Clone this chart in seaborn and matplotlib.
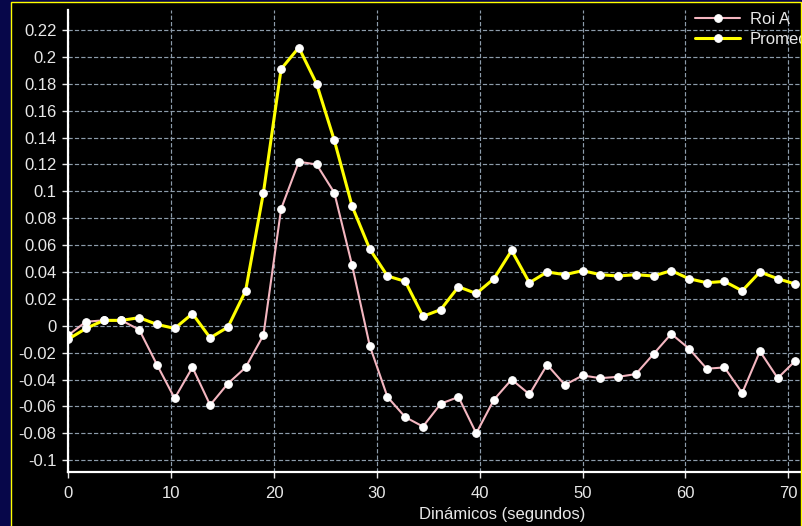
import pandas as pd
import matplotlib.pyplot as plt
from matplotlib.patches import Rectangle
import seaborn as sns

# Datos (una dinámica cada ~1.72 s)
tiempo = [0.00, 1.72, 3.45, 5.17, 6.90, 8.62, 10.34, 12.07, 13.79, 15.52,
          17.24, 18.97, 20.69, 22.41, 24.14, 25.86, 27.59, 29.31, 31.03, 32.76,
          34.48, 36.21, 37.93, 39.66, 41.38, 43.10, 44.83, 46.55, 48.28, 50.00,
          51.72, 53.45, 55.17, 56.90, 58.62, 60.34, 62.07, 63.79, 65.52, 67.24,
          68.97, 70.69]
roi_a = [-0.007, 0.003, 0.004, 0.004, -0.003, -0.029, -0.054, -0.031, -0.059, -0.043,
         -0.031, -0.007, 0.087, 0.122, 0.120, 0.099, 0.045, -0.015, -0.053, -0.068,
         -0.075, -0.058, -0.053, -0.080, -0.055, -0.040, -0.051, -0.029, -0.044, -0.037,
         -0.039, -0.038, -0.036, -0.021, -0.006, -0.017, -0.032, -0.031, -0.050, -0.019,
         -0.039, -0.026]
promedio = [-0.010, -0.002, 0.004, 0.004, 0.006, 0.001, -0.002, 0.009, -0.009, -0.001,
            0.026, 0.099, 0.191, 0.207, 0.180, 0.138, 0.089, 0.057, 0.037, 0.033,
            0.007, 0.012, 0.029, 0.024, 0.035, 0.056, 0.032, 0.040, 0.038, 0.041,
            0.038, 0.037, 0.038, 0.037, 0.041, 0.035, 0.032, 0.033, 0.026, 0.040,
            0.035, 0.031]

series = ["Roi A", "Promedio"]
colores = ["#f4b6c0", "#ffff00"]
grosores = [1.5, 2.2]

x_ticks = [0, 10, 20, 30, 40, 50, 60, 70]
y_ticks = [-0.1, -0.08, -0.06, -0.04, -0.02, 0, 0.02, 0.04, 0.06, 0.08,
           0.1, 0.12, 0.14, 0.16, 0.18, 0.2, 0.22]
y_labels = ["-0.1", "-0.08", "-0.06", "-0.04", "-0.02", "0", "0.02", "0.04", "0.06",
            "0.08", "0.1", "0.12", "0.14", "0.16", "0.18", "0.2", "0.22"]

# Tabla larga para seaborn
df = pd.DataFrame({
    "t": tiempo + tiempo,
    "valor": roi_a + promedio,
    "serie": [series[0]] * len(tiempo) + [series[1]] * len(tiempo),
})

sns.set_style("dark")
plt.rcParams["font.family"] = ["Liberation Sans", "DejaVu Sans"]

W, H = 802, 526
fig = plt.figure(figsize=(W / 100, H / 100), dpi=100, facecolor="#07074a")

# Panel negro con borde amarillo
fig.patches.append(Rectangle((10.5 / W, -0.01), (800.5 - 10.5) / W, 1.01 - 1.5 / H,
                             transform=fig.transFigure, facecolor="black",
                             edgecolor="none", zorder=-2))

ax = fig.add_axes([68.3 / W, (H - 471.7) / H, (W - 68.3) / W, (471.7 - 9.5) / H])
ax.set_facecolor("black")

sns.lineplot(data=df, x="t", y="valor", hue="serie", size="serie",
             hue_order=series, size_order=series,
             palette=dict(zip(series, colores)), sizes=dict(zip(series, grosores)),
             marker="o", markersize=5.5, markerfacecolor="white",
             markeredgecolor="white", errorbar=None, legend=False, ax=ax)

ax.set_xlim(0, (W - 68.3) / 10.286)
ax.set_ylim(-0.1086, 0.2353)
ax.set_xticks(x_ticks)
ax.set_xticklabels([str(v) for v in x_ticks])
ax.set_yticks(y_ticks)
ax.set_yticklabels(y_labels)

ax.grid(True, color="#8d9cab", linestyle=(0, (3.6, 1.8)), linewidth=0.85)
for lado in ["top", "right"]:
    ax.spines[lado].set_visible(False)
for lado in ["left", "bottom"]:
    ax.spines[lado].set_color("white")
    ax.spines[lado].set_linewidth(1.6)

ax.tick_params(bottom=True, left=True, colors="#e8e8e8", labelsize=12,
               length=4.5, width=1)
ax.tick_params(axis="x", pad=6)
ax.tick_params(axis="y", pad=4)
for t in ax.get_xticklines() + ax.get_yticklines():
    t.set_color("white")

ax.set_ylabel("")
ax.set_xlabel("Dinámicos (segundos)", color="#e8e8e8", fontsize=12)
ax.xaxis.set_label_coords(0.591, -0.076)

ax.legend(handles=ax.lines[:2], labels=series, loc="upper left",
          bbox_to_anchor=(695 / W, 1 - 11.5 / H), bbox_transform=fig.transFigure,
          frameon=False, fontsize=12, labelcolor="#e8e8e8", borderpad=0,
          borderaxespad=0, handlelength=2.7, handletextpad=0.6, labelspacing=0.3)

# Borde amarillo por encima de todo
fig.patches.append(Rectangle((10.5 / W, -0.01), (800.5 - 10.5) / W, 1.01 - 1.5 / H,
                             transform=fig.transFigure, facecolor="none",
                             edgecolor="#ffff00", linewidth=1, zorder=10))

fig.savefig("out.png", dpi=100, facecolor=fig.get_facecolor())
